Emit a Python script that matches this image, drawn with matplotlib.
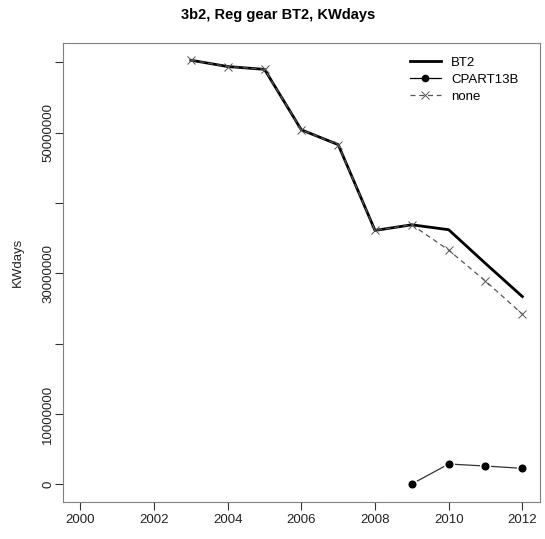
import matplotlib.pyplot as plt
from matplotlib.lines import Line2D

plt.rcParams['font.family'] = ['Liberation Sans', 'DejaVu Sans']

years = [2003, 2004, 2005, 2006, 2007, 2008, 2009, 2010, 2011, 2012]
bt2 = [60.3e6, 59.4e6, 59.0e6, 50.4e6, 48.3e6, 36.1e6, 36.9e6, 36.2e6, 31.4e6, 26.7e6]

cpart_years = [2009, 2010, 2011, 2012]
cpart13b = [0.05e6, 2.89e6, 2.6e6, 2.27e6]

none = [60.3e6, 59.4e6, 59.0e6, 50.4e6, 48.3e6, 36.1e6, 36.9e6, 33.3e6, 28.9e6, 24.2e6]

xticks = [2000, 2002, 2004, 2006, 2008, 2010, 2012]
yticks = [0, 10e6, 20e6, 30e6, 40e6, 50e6, 60e6]
ytick_labels = ['0', '10000000', '', '30000000', '', '50000000', '']

fig = plt.figure(figsize=(5.45, 5.39), dpi=100)
ax = fig.add_axes([62.7 / 545, 1 - 501.7 / 539, (540 - 62.7) / 545, (501.7 - 42.7) / 539])

ax.plot(years, bt2, color='black', linewidth=2, label='BT2')
# type="b" style: line with gaps around points
ax.plot(cpart_years, cpart13b, color='#333333', linewidth=0.9, marker='o',
        markersize=4.5, markerfacecolor='black', markeredgecolor='white',
        markeredgewidth=3.5, label='CPART13B')
ax.plot(cpart_years, cpart13b, linestyle='none', marker='o', markersize=4.8,
        color='black')
ax.plot(years, none, color='#555555', linewidth=0.9, linestyle=(0, (4, 3)),
        marker='x', markersize=5.5, markeredgewidth=0.7, label='none')

ax.set_xlim(1999.52, 2012.48)
ax.set_ylim(-2.47e6, 62.79e6)
ax.set_xticks(xticks)
ax.set_xticklabels([str(x) for x in xticks])
ax.set_yticks(yticks)
ax.set_yticklabels(ytick_labels, rotation=90, va='center')

for sp in ax.spines.values():
    sp.set_color('#808080')
ax.tick_params(direction='out', length=6, width=0.8, color='#333333',
               labelsize=9.5, labelcolor='#222222', pad=3)
ax.tick_params(axis='y', pad=0)
ax.set_ylabel('KWdays', fontsize=9.5, color='#222222')
ax.yaxis.set_label_coords(-0.082, 0.522)
fig.text(278 / 545, 1 - 15 / 539, '3b2, Reg gear BT2, KWdays', fontsize=10.5,
         fontweight='bold', ha='center', va='center')

h, l = ax.get_legend_handles_labels()
cp_handle = Line2D([], [], color='black', linewidth=0.9, marker='o', markersize=4.5)
leg = ax.legend([h[0], cp_handle, h[2]], l, loc='upper right', frameon=False,
                fontsize=9.5, handlelength=2.3, labelspacing=0.35,
                bbox_to_anchor=(0.98, 0.995))

fig.savefig('out.png', dpi=100)
